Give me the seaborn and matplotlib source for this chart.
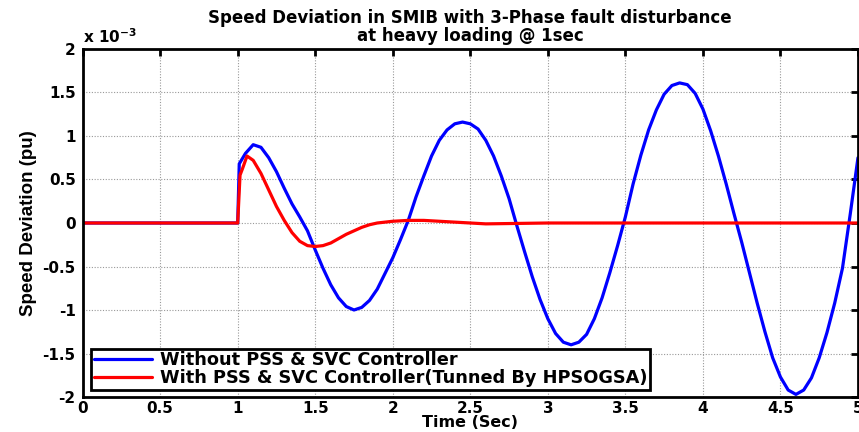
import numpy as np
import pandas as pd
import seaborn as sns
import matplotlib.pyplot as plt
from matplotlib.ticker import FormatStrFormatter

# 1. data (speed deviation in units of 1e-3 pu)
t_without = [0.0, 1.0, 1.01, 1.05, 1.10, 1.15, 1.20, 1.25, 1.30, 1.35, 1.40,
             1.45, 1.50, 1.55, 1.60, 1.65, 1.70, 1.75, 1.80, 1.85, 1.90, 1.95,
             2.00, 2.05, 2.10, 2.15, 2.20, 2.25, 2.30, 2.35, 2.40, 2.45, 2.50,
             2.55, 2.60, 2.65, 2.70, 2.75, 2.80, 2.85, 2.90, 2.95, 3.00, 3.05,
             3.10, 3.15, 3.20, 3.25, 3.30, 3.35, 3.40, 3.45, 3.50, 3.55, 3.60,
             3.65, 3.70, 3.75, 3.80, 3.85, 3.90, 3.95, 4.00, 4.05, 4.10, 4.15,
             4.20, 4.25, 4.30, 4.35, 4.40, 4.45, 4.50, 4.55, 4.60, 4.65, 4.70,
             4.75, 4.80, 4.85, 4.90, 4.95, 5.00]
dw_without = [0.0, 0.0, 0.68, 0.80, 0.90, 0.87, 0.75, 0.59, 0.40, 0.22, 0.07,
              -0.09, -0.31, -0.52, -0.71, -0.86, -0.96, -1.00, -0.97, -0.89, -0.76, -0.58,
              -0.40, -0.19, 0.03, 0.30, 0.54, 0.77, 0.95, 1.07, 1.14, 1.16, 1.14,
              1.08, 0.95, 0.77, 0.54, 0.28, -0.03, -0.33, -0.62, -0.88, -1.10, -1.27,
              -1.37, -1.40, -1.37, -1.28, -1.10, -0.86, -0.57, -0.26, 0.07, 0.45, 0.78,
              1.07, 1.30, 1.48, 1.58, 1.61, 1.59, 1.49, 1.31, 1.06, 0.77, 0.45,
              0.11, -0.22, -0.57, -0.92, -1.25, -1.55, -1.77, -1.92, -1.97, -1.92, -1.78,
              -1.55, -1.26, -0.92, -0.52, 0.10, 0.75]

t_with = [0.0, 1.0, 1.015, 1.03, 1.06, 1.10, 1.15, 1.20, 1.25, 1.30, 1.35,
          1.40, 1.45, 1.50, 1.55, 1.60, 1.65, 1.70, 1.75, 1.80, 1.85, 1.90,
          2.00, 2.10, 2.20, 2.30, 2.40, 2.50, 2.60, 2.80, 3.00, 5.00]
dw_with = [0.0, 0.0, 0.55, 0.62, 0.77, 0.72, 0.57, 0.38, 0.19, 0.03, -0.11,
           -0.21, -0.26, -0.27, -0.26, -0.23, -0.18, -0.13, -0.09, -0.05, -0.02, 0.0,
           0.02, 0.03, 0.03, 0.02, 0.01, 0.0, -0.01, -0.005, 0.0, 0.0]

label_without = 'Without PSS & SVC Controller'
label_with = 'With PSS & SVC Controller(Tunned By HPSOGSA)'

df1 = pd.DataFrame({'t': t_without, 'dw': dw_without})
df2 = pd.DataFrame({'t': t_with, 'dw': dw_with})

# 2. style (matlab-like)
sns.set_style('white')
plt.rcParams['font.family'] = ['DejaVu Sans']
plt.rcParams['font.weight'] = 'bold'
plt.rcParams['axes.unicode_minus'] = False
plt.rcParams['mathtext.fontset'] = 'dejavusans'
plt.rcParams['mathtext.default'] = 'bf'
for k in ['text.color', 'axes.labelcolor', 'xtick.color', 'ytick.color']:
    plt.rcParams[k] = 'black'

fig = plt.figure(figsize=(8.59, 4.32), dpi=100)
ax = fig.add_axes([0.0962, 0.081, 0.9026, 0.8056])

sns.lineplot(data=df1, x='t', y='dw', ax=ax, color=(0, 0, 1), linewidth=2.3,
             label=label_without, estimator=None, sort=False)
sns.lineplot(data=df2, x='t', y='dw', ax=ax, color=(1, 0, 0), linewidth=2.3,
             label=label_with, estimator=None, sort=False)

ax.set_xlim(0, 5)
ax.set_ylim(-2, 2)
ax.set_xticks(np.arange(0, 5.01, 0.5))
ax.set_yticks(np.arange(-2, 2.01, 0.5))
ax.xaxis.set_major_formatter(FormatStrFormatter('%g'))
ax.yaxis.set_major_formatter(FormatStrFormatter('%g'))
ax.tick_params(direction='in', top=True, right=True, length=5, width=2,
               labelsize=11, pad=5)
ax.tick_params(axis='x', pad=3)
for lab in ax.get_xticklabels() + ax.get_yticklabels():
    lab.set_fontweight('bold')
for sp in ax.spines.values():
    sp.set_linewidth(2)
    sp.set_color('black')
ax.grid(True, linestyle=(0, (1, 1.5)), color='#999999', linewidth=0.8)

ax.set_xlabel('Time (Sec)', fontsize=11.5, fontweight='bold', labelpad=-1)
ax.set_ylabel('Speed Deviation (pu)', fontsize=13.5, fontweight='bold',
              family=['Liberation Sans Narrow', 'Liberation Sans'], labelpad=4)
ax.set_title('Speed Deviation in SMIB with 3-Phase fault disturbance\nat heavy loading @ 1sec',
             fontsize=12, fontweight='bold', linespacing=0.95, pad=6)
ax.text(0.0, 1.008, 'x 10$^{-3}$', transform=ax.transAxes, ha='left', va='bottom',
        fontsize=11, fontweight='bold')

leg = ax.legend(loc='lower left', bbox_to_anchor=(0.011, 0.02), borderaxespad=0,
                fontsize=12.8, handlelength=3.3, handletextpad=0.4, labelspacing=0.0,
                borderpad=0.15, fancybox=False, framealpha=1, edgecolor='black')
leg.get_frame().set_linewidth(2)
for txt in leg.get_texts():
    txt.set_fontweight('bold')

plt.savefig('out.png', dpi=100)
